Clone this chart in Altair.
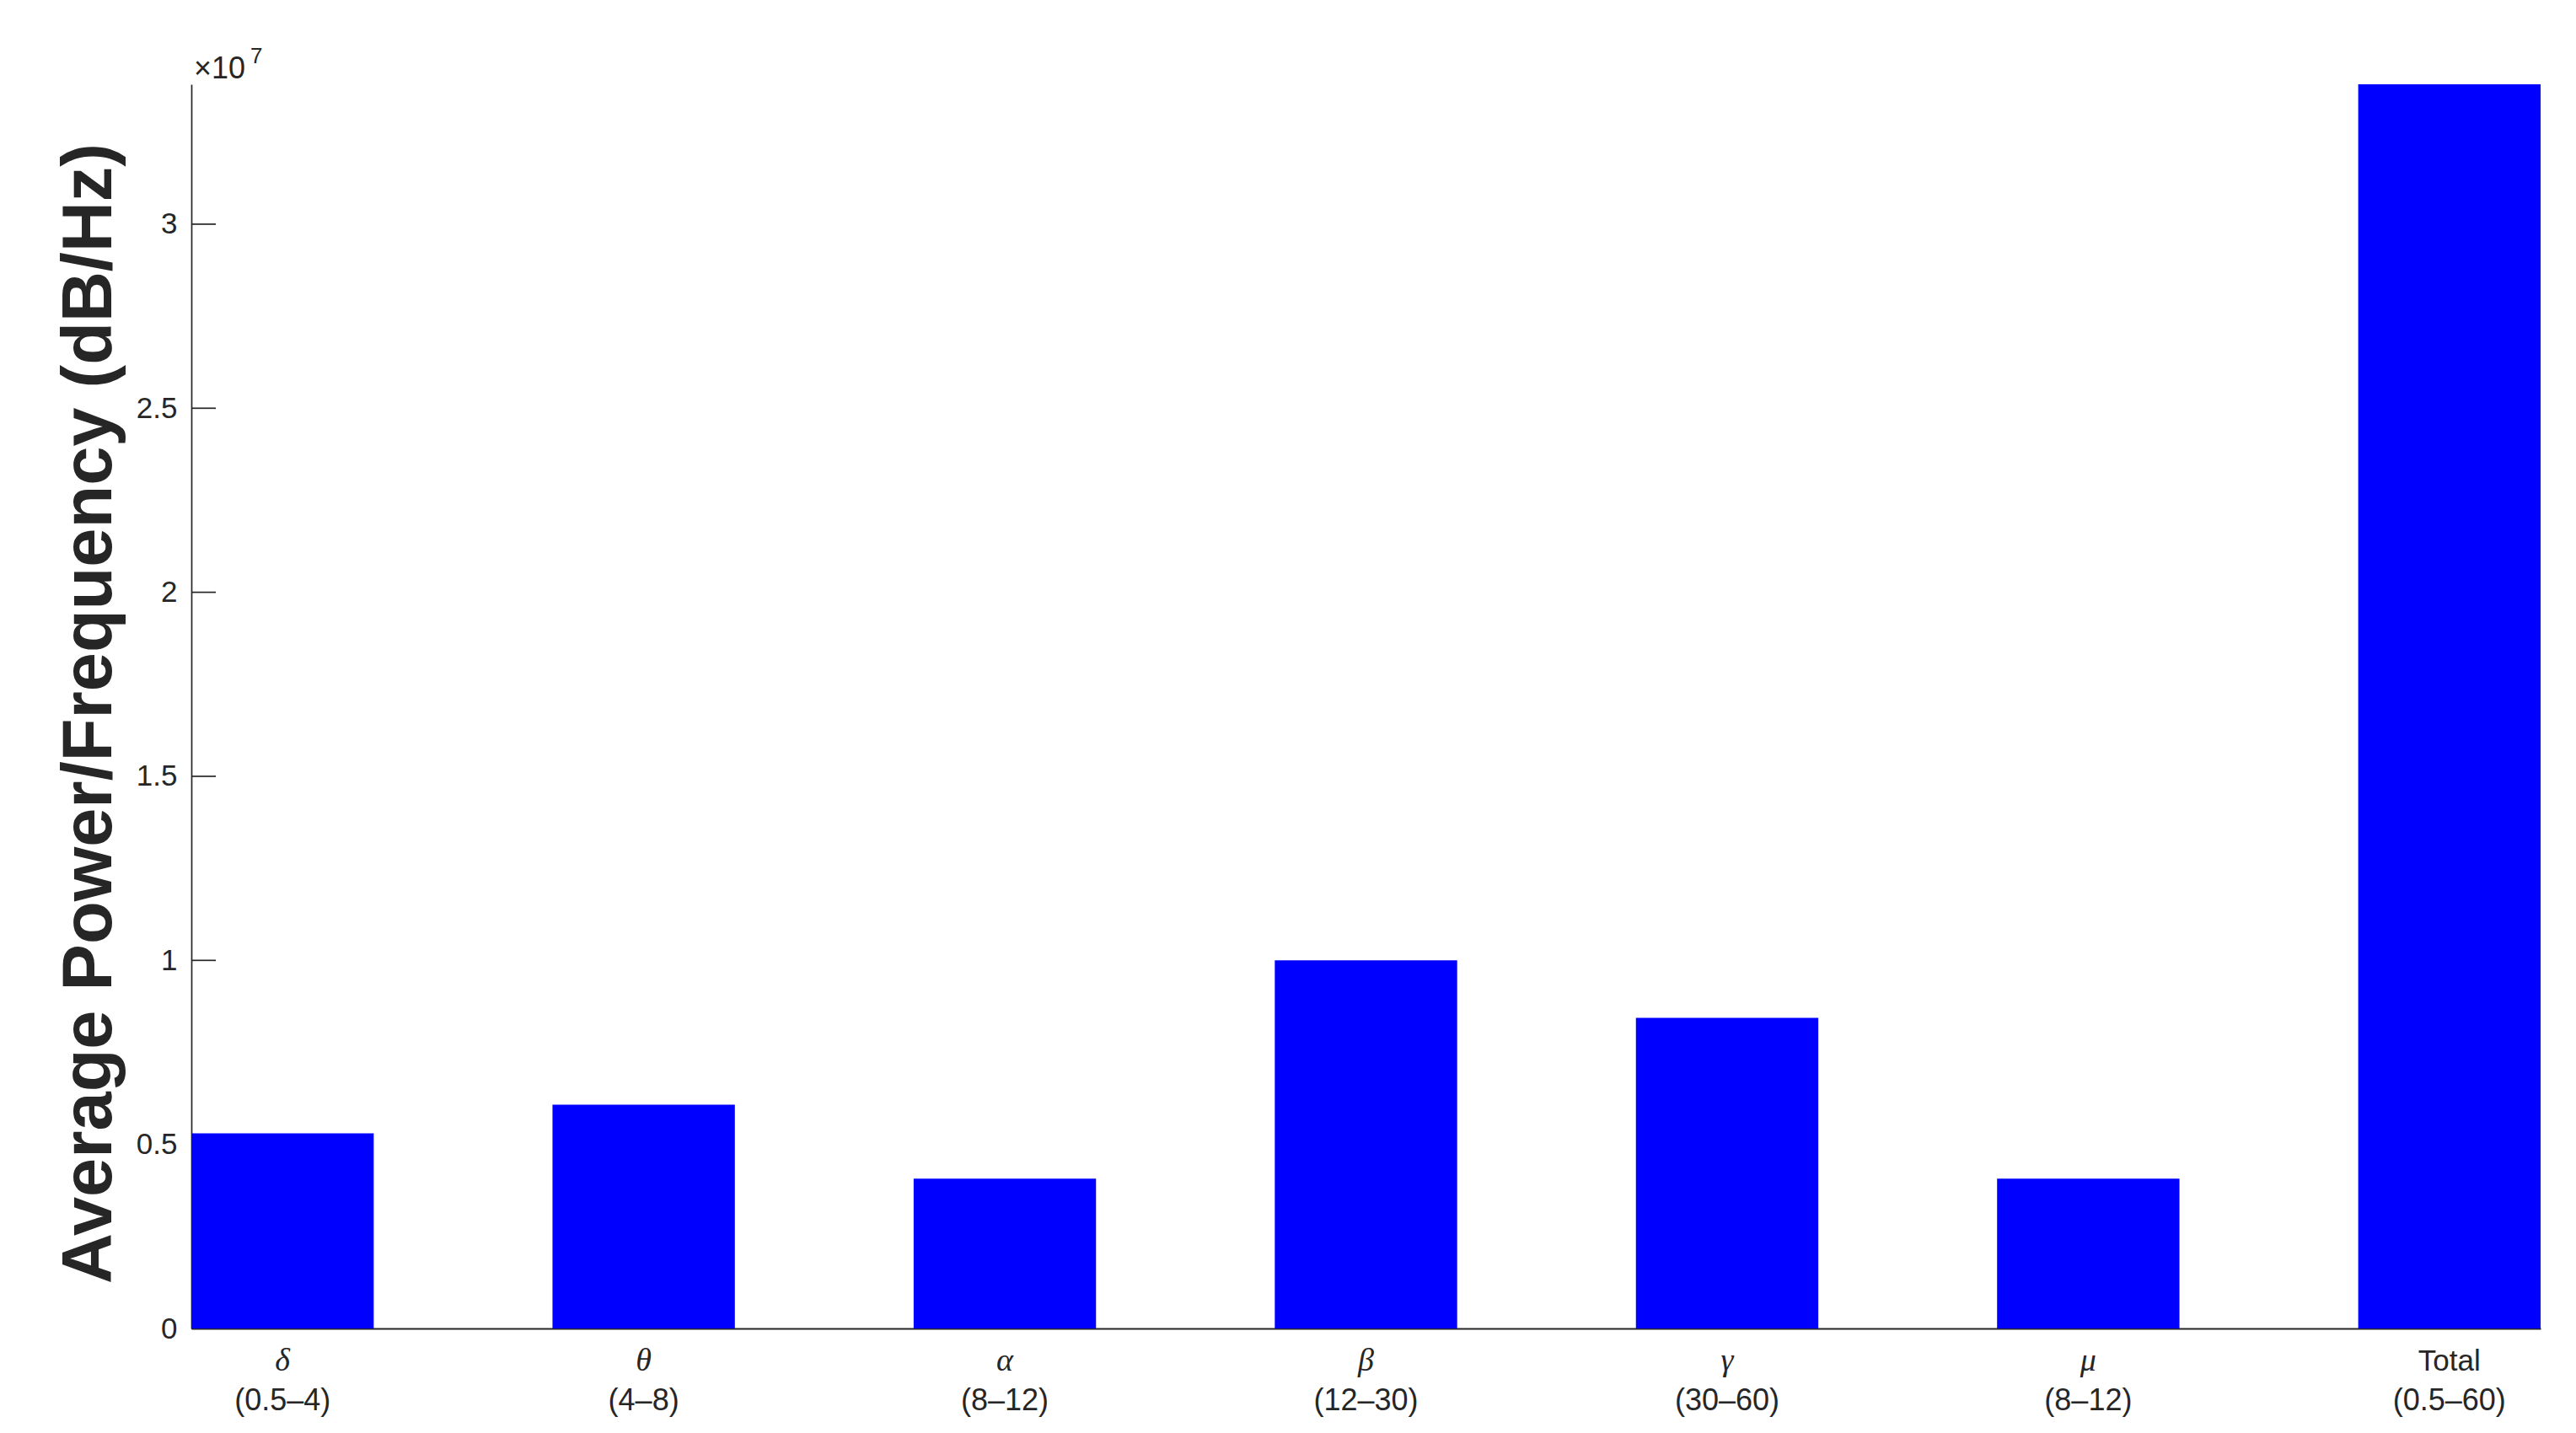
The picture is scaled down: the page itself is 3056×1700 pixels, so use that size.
import altair as alt
import pandas as pd

# ---- data ----
bands = ["δ", "θ", "α", "β", "γ", "μ", "Total"]
ranges = ["(0.5–4)", "(4–8)", "(8–12)", "(12–30)", "(30–60)", "(8–12)", "(0.5–60)"]
power = [5.30e6, 6.08e6, 4.07e6, 1.000e7, 8.44e6, 4.07e6, 3.380e7]
y_ticks = [0, 5e6, 1e7, 1.5e7, 2e7, 2.5e7, 3e7]
y_max = 3.380e7
exp_base = ["×10"]
exp_power = ["7"]

W, H = 2787, 1476
AX = "#262626"

df = pd.DataFrame({"band": bands, "range": ranges, "power": power})
ticks_df = pd.DataFrame({"power": y_ticks})

yscale = alt.Scale(domain=[0, y_max], nice=False, zero=True)
xscale = alt.Scale(paddingInner=0.495, paddingOuter=0)

y_axis = alt.Axis(
    values=y_ticks,
    labelExpr="datum.value / 1e7",
    ticks=False,
    tickSize=0,
    grid=False,
    domainColor=AX,
    domainWidth=1.7,
    labelFont="Liberation Sans",
    labelFontSize=35,
    labelColor=AX,
    labelPadding=17,
    title="Average Power/Frequency (dB/Hz)",
    titleFont="Liberation Sans",
    titleFontSize=83,
    titleFontWeight="bold",
    titleColor=AX,
    titleAngle=270,
    titleAlign="center",
    titleBaseline="alphabetic",
    titleX=-96,
    titleY=746,
)
x_axis = alt.Axis(labels=False, ticks=False, title=None, domainColor=AX,
                  domainWidth=2, grid=False)


def xenc():
    return alt.X("band:N", sort=bands, scale=xscale, axis=x_axis)


tick_layer = alt.Chart(ticks_df).mark_rule(color=AX, strokeWidth=1.7).encode(
    y=alt.Y("power:Q", scale=yscale, axis=y_axis),
    x=alt.value(0),
    x2=alt.value(29),
)

bars = alt.Chart(df).mark_bar(color="#0000FF").encode(
    x=xenc(),
    y=alt.Y("power:Q", scale=yscale, axis=y_axis),
)

greek = alt.Chart(df).transform_filter("datum.band != 'Total'").mark_text(
    font="Liberation Serif", fontStyle="italic", fontSize=38, color=AX,
    baseline="alphabetic", align="center",
).encode(x=xenc(), y=alt.value(H + 50), text="band:N")

total_lbl = alt.Chart(df).transform_filter("datum.band == 'Total'").mark_text(
    font="Liberation Sans", fontSize=35, color=AX,
    baseline="alphabetic", align="center",
).encode(x=xenc(), y=alt.value(H + 50), text="band:N")

range_lbl = alt.Chart(df).mark_text(
    font="Liberation Sans", fontSize=36, color=AX,
    baseline="alphabetic", align="center",
).encode(x=xenc(), y=alt.value(H + 97), text="range:N")

exp1 = alt.Chart(pd.DataFrame({"t": exp_base})).mark_text(
    font="Liberation Sans", fontSize=36, color=AX, baseline="alphabetic", align="left",
).encode(x=alt.value(3), y=alt.value(-7), text="t:N")

exp2 = alt.Chart(pd.DataFrame({"t": exp_power})).mark_text(
    font="Liberation Sans", fontSize=26, color=AX, baseline="alphabetic", align="left",
).encode(x=alt.value(70), y=alt.value(-25), text="t:N")

chart = alt.layer(tick_layer, bars, greek, total_lbl, range_lbl, exp1, exp2).properties(
    width=W,
    height=H,
    autosize=alt.AutoSizeParams(type="none"),
    padding={"left": 219, "top": 92, "right": 20, "bottom": 115},
    background="white",
).configure_view(stroke=None)

chart.save("out.html", embed_options={"renderer": "svg", "actions": False})
